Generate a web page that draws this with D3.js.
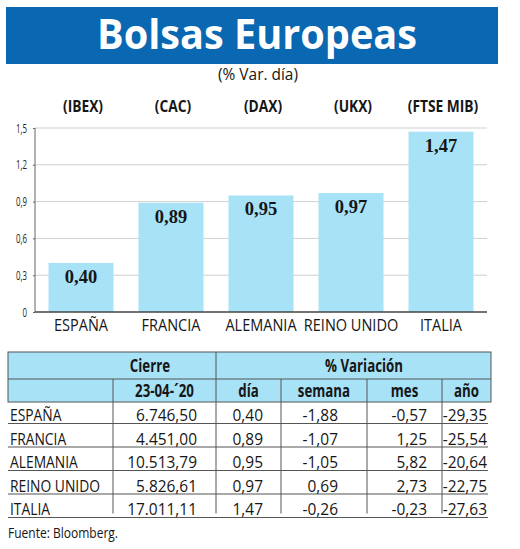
<!DOCTYPE html>
<html><head><meta charset="utf-8">
<script src="https://cdn.jsdelivr.net/npm/d3@7"></script>
<style>
html,body{margin:0;padding:0;background:#fff;}
svg{display:block;}
</style></head>
<body>
<svg id="c" width="520" height="549"></svg>
<script>
// ---- data ----
const countries = ["ESPAÑA","FRANCIA","ALEMANIA","REINO UNIDO","ITALIA"];
const tickers = ["(IBEX)","(CAC)","(DAX)","(UKX)","(FTSE MIB)"];
const dayVar = [0.40,0.89,0.95,0.97,1.47];
const cierre = [6746.50,4451.00,10513.79,5826.61,17011.11];
const semana = [-1.88,-1.07,-1.05,0.69,-0.26];
const mes = [-0.57,1.25,5.82,2.73,-0.23];
const anio = [-29.35,-25.54,-20.64,-22.75,-27.63];
const yTicks = [0,0.3,0.6,0.9,1.2,1.5];
const title = "Bolsas Europeas";
const subtitle = "(% Var. día)";
const source = "Fuente: Bloomberg.";
const headTop = ["Cierre","% Variación"];
const headSub = ["23-04-´20","día","semana","mes","año"];

const loc = d3.formatLocale({decimal:",",thousands:".",grouping:[3],currency:["",""],minus:"-"});
const f2 = loc.format(".2f"), fNum = loc.format(",.2f"), f1 = loc.format(".1f");
const fTick = d => d===0 ? "0" : f1(d);

const BLUE = "#0a67b1", LIGHT = "#a7e2f7", INK = "#161616";
const SANS = "'Open Sans','Noto Sans',sans-serif";
const SERIF = "'Liberation Serif','DejaVu Serif',serif";
const REG = 500;
const svg = d3.select("#c");

// condense glyphs horizontally so the group's reference text gets target width
function condense(sel, refText, target){
  let k = 1;
  sel.each(function(){ if (this.textContent === refText) k = target / this.getComputedTextLength(); });
  sel.each(function(){
    const w = this.getComputedTextLength();
    d3.select(this).attr("textLength", w*k).attr("lengthAdjust","spacingAndGlyphs");
  });
}

// ---- title banner ----
svg.append("rect").attr("x",6).attr("y",7).attr("width",492).attr("height",57).attr("fill",BLUE);
const tt = svg.append("text").attr("x",257).attr("y",49).attr("text-anchor","middle")
  .attr("fill","#fff").attr("font-family",SANS).attr("font-weight","bold")
  .attr("font-size",42).text(title);
condense(tt, title, 320);
const st = svg.append("text").attr("x",258).attr("y",80).attr("text-anchor","middle")
  .attr("fill",INK).attr("font-family",SANS).attr("font-weight",REG).attr("font-size",15.5).text(subtitle);
condense(st, subtitle, 80);

// ---- chart ----
const x = d3.scaleBand().domain(countries).range([35,487]).paddingInner(0.278).paddingOuter(0.15);
const y = d3.scaleLinear().domain([0,1.5]).range([312,128]);

const tk = svg.append("g").selectAll("text").data(tickers).join("text")
  .attr("x",(d,i)=>x(countries[i])+x.bandwidth()/2+2).attr("y",112)
  .attr("text-anchor","middle").attr("font-family",SANS).attr("font-weight","bold")
  .attr("font-size",16).attr("fill",INK).text(d=>d);
condense(tk, "(IBEX)", 40);

// grid
svg.append("g").selectAll("line").data(yTicks.filter(d=>d>0)).join("line")
  .attr("x1",35).attr("x2",487).attr("y1",d=>y(d)).attr("y2",d=>y(d))
  .attr("stroke","#cfcfcf").attr("stroke-width",1);

// y axis
const yAxis = d3.axisLeft(y).tickValues(yTicks).tickFormat(fTick).tickSize(2).tickPadding(6);
const ga = svg.append("g").attr("transform","translate(35,0)").call(yAxis);
ga.select(".domain").attr("stroke","#666").attr("d","M0,"+y(1.5)+"V"+y(0));
ga.selectAll(".tick line").attr("stroke","#666");
const ytx = ga.selectAll("text").attr("font-family",SANS).attr("font-weight",REG).attr("font-size",12.5).attr("fill","#222");
condense(ytx, "1,5", 11);

// bars
svg.append("g").selectAll("rect").data(dayVar).join("rect")
  .attr("x",(d,i)=>x(countries[i])).attr("width",x.bandwidth())
  .attr("y",d=>y(d)).attr("height",d=>y(0)-y(d)).attr("fill",LIGHT);

// baseline
svg.append("line").attr("x1",35).attr("x2",487).attr("y1",y(0)).attr("y2",y(0))
  .attr("stroke","#444").attr("stroke-width",1.5);

// value labels
svg.append("g").selectAll("text").data(dayVar).join("text")
  .attr("x",(d,i)=>x(countries[i])+x.bandwidth()/2).attr("y",d=>y(d)+20)
  .attr("text-anchor","middle").attr("font-family",SERIF)
  .attr("font-weight","bold").attr("font-size",18.5).attr("fill",INK).text(d=>f2(d));

// category labels
const gx = svg.append("g").attr("transform","translate(0,312)")
  .call(d3.axisBottom(x).tickSize(0).tickPadding(7));
gx.select(".domain").remove();
const cl = gx.selectAll("text").attr("font-family",SANS).attr("font-weight",REG).attr("font-size",17).attr("fill",INK);
condense(cl, "ESPAÑA", 54);

// ---- table ----
const colEdges = [8,113,216,281,367,442,491];
const h1Top = 352, h1Bot = 379, h2Bot = 402;
const rowH = 23.5, rowTop0 = 400;
const rowBot = i => rowTop0 + (i+1)*rowH;
const LINE = "#555";

svg.append("rect").attr("x",colEdges[0]).attr("y",h1Top)
  .attr("width",colEdges[6]-colEdges[0]).attr("height",h2Bot-h1Top)
  .attr("fill",LIGHT).attr("stroke",LINE).attr("stroke-width",1);
svg.append("line").attr("x1",colEdges[0]).attr("x2",colEdges[6]).attr("y1",h1Bot).attr("y2",h1Bot)
  .attr("stroke",LINE);
svg.append("line").attr("x1",colEdges[2]).attr("x2",colEdges[2]).attr("y1",h1Top).attr("y2",h2Bot).attr("stroke",LINE);
svg.append("g").selectAll("line").data([1,3,4,5]).join("line")
  .attr("x1",i=>colEdges[i]).attr("x2",i=>colEdges[i]).attr("y1",h1Bot).attr("y2",h2Bot).attr("stroke",LINE);

const hfont = g => g.attr("font-family",SANS).attr("font-weight","bold").attr("font-size",17).attr("fill",INK).attr("text-anchor","middle");
const ht = svg.append("g");
ht.append("text").attr("x",150).attr("y",372).text(headTop[0]).call(hfont);
ht.append("text").attr("x",364).attr("y",372).text(headTop[1]).call(hfont);
ht.selectAll("text.sub").data(headSub).join("text").attr("class","sub")
  .attr("x",(d,i)=>(colEdges[i+1]+colEdges[i+2])/2).attr("y",397).text(d=>d).call(hfont);
condense(ht.selectAll("text"), "% Variación", 78);

// row lines
svg.append("g").selectAll("line").data(countries).join("line")
  .attr("x1",8).attr("x2",488).attr("y1",(d,i)=>rowBot(i)).attr("y2",(d,i)=>rowBot(i))
  .attr("stroke",LINE).attr("stroke-width",1.2);
// body verticals
svg.append("g").selectAll("g").data(countries).join("g")
  .each(function(d,i){
    d3.select(this).selectAll("line").data([1,2,3,4,5]).join("line")
      .attr("x1",c=>colEdges[c]).attr("x2",c=>colEdges[c])
      .attr("y1",i===0?h2Bot:rowBot(i-1)).attr("y2",rowBot(i)-(i===4?4:0))
      .attr("stroke",LINE);
  });

const cols = [
  {vals:countries, x:10, anchor:"start", fmt:d=>d},
  {vals:cierre, x:197, anchor:"end", fmt:fNum},
  {vals:dayVar, x:263, anchor:"end", fmt:f2},
  {vals:semana, x:338, anchor:"end", fmt:f2},
  {vals:mes, x:427, anchor:"end", fmt:f2},
  {vals:anio, x:487, anchor:"end", fmt:f2}
];
const nameG = svg.append("g"), numG = svg.append("g");
cols.forEach((c,ci)=>{
  (ci===0?nameG:numG).selectAll("text.c"+ci).data(c.vals).join("text").attr("class","c"+ci)
    .attr("x",c.x).attr("y",(d,i)=>rowBot(i)-2.5).attr("text-anchor",c.anchor)
    .attr("font-family",SANS).attr("font-weight",REG).attr("font-size",17).attr("fill",INK)
    .text(d=>c.fmt(d));
});
condense(nameG.selectAll("text"), "REINO UNIDO", 90);
condense(numG.selectAll("text"), "6.746,50", 61);

const src = svg.append("text").attr("x",8).attr("y",538).attr("font-family",SANS)
  .attr("font-weight",REG).attr("font-size",15).attr("fill",INK).text(source);
condense(src, source, 110);
</script>
</body></html>
